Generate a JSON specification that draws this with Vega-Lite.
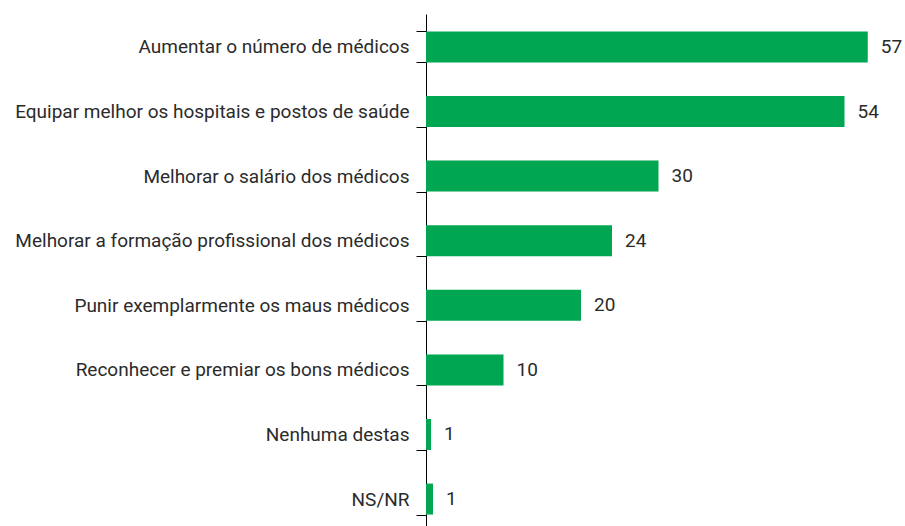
{
  "$schema": "https://vega.github.io/schema/vega-lite/v6.json",
  "autosize": {"type": "none"},
  "padding": {"left": 426, "top": 14, "right": 14, "bottom": 0},
  "width": 465,
  "height": 518,
  "background": "white",
  "config": {"view": {"stroke": null}, "font": "Roboto"},
  "data": {"values": [
    {"item": "Aumentar o número de médicos", "value": 57, "label": "57"},
    {"item": "Equipar melhor os hospitais e postos de saúde", "value": 54, "label": "54"},
    {"item": "Melhorar o salário dos médicos", "value": 30, "label": "30"},
    {"item": "Melhorar a formação profissional dos médicos", "value": 24, "label": "24"},
    {"item": "Punir exemplarmente os maus médicos", "value": 20, "label": "20"},
    {"item": "Reconhecer e premiar os bons médicos", "value": 10, "label": "10"},
    {"item": "Nenhuma destas", "value": 0.65, "label": "1"},
    {"item": "NS/NR", "value": 0.9, "label": "1"}
  ]},
  "encoding": {
    "y": {"field": "item", "type": "nominal", "sort": null,
      "scale": {"paddingInner": 0.52, "paddingOuter": 0.27},
      "axis": {"title": null, "tickBand": "extent", "tickSize": 10, "tickColor": "#000", "domainColor": "#000",
        "labelFont": "Roboto", "labelFontSize": 19, "labelFontWeight": 400, "labelColor": "#2b2b2b", "labelPadding": 7, "labelLimit": 500}},
    "x": {"field": "value", "type": "quantitative", "scale": {"domain": [0, 60]}, "axis": null}
  },
  "layer": [
    {"mark": {"type": "bar", "color": "#00a651"}},
    {"mark": {"type": "text", "align": "left", "dx": 13, "fontSize": 19, "fontWeight": 400, "font": "Roboto", "color": "#2b2b2b"},
     "encoding": {"text": {"field": "label", "type": "nominal"}}}
  ]
}
